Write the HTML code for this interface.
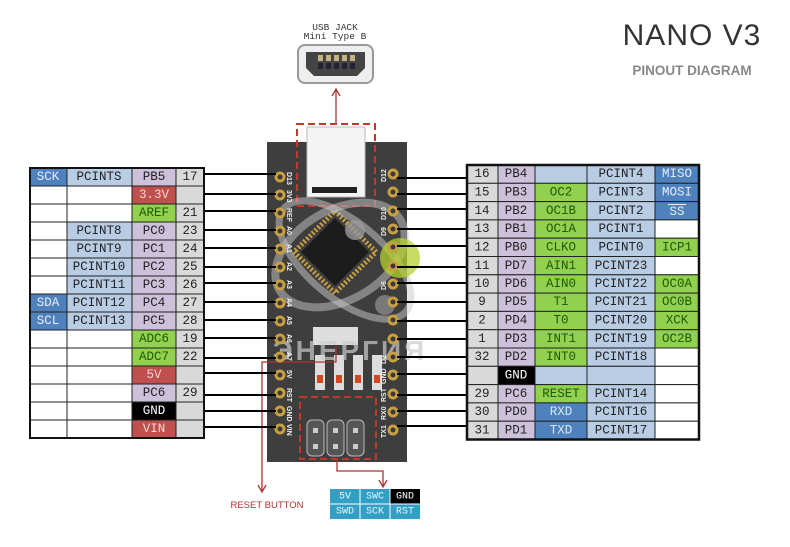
<!DOCTYPE html>
<html><head><meta charset="utf-8"><style>
body{margin:0;background:#fff;}
svg{display:block}
.t{font-family:"Liberation Mono",monospace;font-size:12.5px;text-anchor:middle;dominant-baseline:central}
.p{font-family:"Liberation Sans",sans-serif;font-size:7px;fill:#eee;font-weight:bold}
</style></head><body>
<svg width="790" height="547" viewBox="0 0 790 547" xmlns="http://www.w3.org/2000/svg">
<rect width="790" height="547" fill="#fff"/>
<!-- Title -->
<text x="692" y="45" font-family="Liberation Sans,sans-serif" font-size="30" fill="#333" text-anchor="middle" letter-spacing="1">NANO V3</text>
<text x="692" y="75" font-family="Liberation Sans,sans-serif" font-size="13.5" font-weight="bold" fill="#888" text-anchor="middle">PINOUT DIAGRAM</text>
<!-- USB jack -->
<text x="335" y="30" font-family="Liberation Mono,monospace" font-size="9.5" text-anchor="middle" fill="#333">USB JACK</text>
<text x="335" y="39" font-family="Liberation Mono,monospace" font-size="9.5" text-anchor="middle" fill="#333">Mini Type B</text>
<rect x="298" y="45" width="75" height="38" rx="7" fill="#eee" stroke="#999" stroke-width="2"/>
<path d="M306 52 h59 v16 l-8 8 h-43 l-8 -8z" fill="#444"/>
<g fill="#c8b080"><rect x="318" y="55" width="5" height="6"/><rect x="326" y="55" width="5" height="6"/><rect x="334" y="55" width="5" height="6"/><rect x="342" y="55" width="5" height="6"/><rect x="350" y="55" width="5" height="6"/></g>
<g fill="#223"><rect x="318" y="63" width="5" height="6"/><rect x="326" y="63" width="5" height="6"/><rect x="334" y="63" width="5" height="6"/><rect x="342" y="63" width="5" height="6"/><rect x="350" y="63" width="5" height="6"/></g>
<path d="M336 123 V90 M332 96 L336 89 L340 96" stroke="#a33" stroke-width="1.3" fill="none"/>

<!-- Board -->
<rect x="267" y="142" width="140" height="320" fill="#3e3e3e"/>
<rect x="307" y="127" width="58" height="70" fill="#f4f4f4" stroke="#bbb"/>
<rect x="312" y="187" width="45" height="6" fill="#222"/>
<rect x="297" y="124" width="78" height="82" fill="none" stroke="#c0392b" stroke-width="2" stroke-dasharray="7,4"/>
<g transform="translate(335,252) rotate(45)">
<rect x="-29" y="-29" width="58" height="58" fill="none" stroke="#c8a040" stroke-width="5" stroke-dasharray="2,2"/>
<rect x="-24" y="-24" width="48" height="48" fill="#1c1c1c"/>
</g>
<ellipse cx="340" cy="255" rx="70" ry="45" fill="none" stroke="#bbb" stroke-width="8" opacity="0.55" transform="rotate(-30 340 255)"/>
<ellipse cx="345" cy="260" rx="80" ry="38" fill="none" stroke="#ccc" stroke-width="7" opacity="0.5" transform="rotate(40 345 260)"/>
<circle cx="400" cy="258" r="20" fill="#b5d030" opacity="0.75"/>
<circle cx="355" cy="230" r="10" fill="#999" opacity="0.8"/>
<circle cx="385" cy="305" r="10" fill="#888" opacity="0.8"/>
<rect x="313" y="327" width="45" height="18" fill="#ddd"/>
<g fill="#ddd"><rect x="315" y="355" width="10" height="35"/><rect x="334" y="355" width="10" height="35"/><rect x="353" y="355" width="10" height="35"/><rect x="372" y="355" width="10" height="35"/></g>
<g fill="#d04a20"><rect x="317" y="375" width="6" height="8"/><rect x="336" y="375" width="6" height="8"/><rect x="355" y="375" width="6" height="8"/><rect x="374" y="375" width="6" height="8"/></g>
<text x="350" y="360" font-family="Liberation Sans,sans-serif" font-size="28" font-weight="bold" fill="#ccc" opacity="0.7" text-anchor="middle" letter-spacing="3">ЭНЕРГИЯ</text>
<rect x="300" y="397" width="76" height="62" fill="none" stroke="#c0392b" stroke-width="2" stroke-dasharray="7,4"/>
<g fill="#555" stroke="#bbb"><rect x="307" y="420" width="17" height="36" rx="5"/><rect x="327" y="420" width="17" height="36" rx="5"/><rect x="347" y="420" width="17" height="36" rx="5"/></g>
<g fill="#ccc"><rect x="313" y="428" width="5" height="5"/><rect x="333" y="428" width="5" height="5"/><rect x="353" y="428" width="5" height="5"/><rect x="313" y="444" width="5" height="5"/><rect x="333" y="444" width="5" height="5"/><rect x="353" y="444" width="5" height="5"/></g>
<!-- arrows bottom -->
<path d="M336 346 V362 H262 V492 M258 485 L262 492 L266 485" stroke="#a33" stroke-width="1.3" fill="none"/>
<path d="M337 459 V471 H383 V486 M379 480 L383 487 L387 480" stroke="#a33" stroke-width="1.3" fill="none"/>
<text x="267" y="508" font-family="Liberation Sans,sans-serif" font-size="9.5" fill="#b03030" text-anchor="middle">RESET BUTTON</text>
<!-- bottom table -->
<rect x="330" y="489" width="30" height="15" fill="#31a0c4"/><rect x="360" y="489" width="30" height="15" fill="#31a0c4"/><rect x="390" y="489" width="30" height="15" fill="#000"/>
<rect x="330" y="504" width="30" height="15" fill="#31a0c4"/><rect x="360" y="504" width="30" height="15" fill="#31a0c4"/><rect x="390" y="504" width="30" height="15" fill="#31a0c4"/>
<g stroke="#fff" stroke-width="1"><line x1="360" y1="489" x2="360" y2="519"/><line x1="390" y1="489" x2="390" y2="519"/><line x1="330" y1="504" x2="420" y2="504"/></g>
<g class="t" style="font-size:10px" fill="#e6f6ff"><text x="345" y="497">5V</text><text x="375" y="497">SWC</text><text x="405" y="497" fill="#fff">GND</text><text x="345" y="512">SWD</text><text x="375" y="512">SCK</text><text x="405" y="512">RST</text></g>

<!-- pins -->
<g fill="#3a3a3a" stroke="#c8a040" stroke-width="3">
<circle cx="280" cy="177" r="4"/><circle cx="280" cy="195" r="4"/><circle cx="280" cy="213" r="4"/><circle cx="280" cy="231" r="4"/><circle cx="280" cy="249" r="4"/><circle cx="280" cy="267" r="4"/><circle cx="280" cy="285" r="4"/><circle cx="280" cy="303" r="4"/><circle cx="280" cy="321" r="4"/><circle cx="280" cy="339" r="4"/><circle cx="280" cy="357" r="4"/><circle cx="280" cy="375" r="4"/><circle cx="280" cy="393" r="4"/><circle cx="280" cy="411" r="4"/><circle cx="280" cy="429" r="4"/>
<circle cx="393" cy="174" r="4"/><circle cx="393" cy="192" r="4"/><circle cx="393" cy="211" r="4"/><circle cx="393" cy="229" r="4"/><circle cx="393" cy="247" r="4"/><circle cx="393" cy="266" r="4"/><circle cx="393" cy="284" r="4"/><circle cx="393" cy="302" r="4"/><circle cx="393" cy="320" r="4"/><circle cx="393" cy="339" r="4"/><circle cx="393" cy="357" r="4"/><circle cx="393" cy="375" r="4"/><circle cx="393" cy="394" r="4"/><circle cx="393" cy="412" r="4"/><circle cx="393" cy="430" r="4"/>
</g>
<g class="p">
<text transform="translate(287,172) rotate(90)">D13</text><text transform="translate(287,190) rotate(90)">3V3</text><text transform="translate(287,208) rotate(90)">REF</text><text transform="translate(287,226) rotate(90)">A0</text><text transform="translate(287,244) rotate(90)">A1</text><text transform="translate(287,262) rotate(90)">A2</text><text transform="translate(287,280) rotate(90)">A3</text><text transform="translate(287,298) rotate(90)">A4</text><text transform="translate(287,316) rotate(90)">A5</text><text transform="translate(287,334) rotate(90)">A6</text><text transform="translate(287,352) rotate(90)">A7</text><text transform="translate(287,370) rotate(90)">5V</text><text transform="translate(287,388) rotate(90)">RST</text><text transform="translate(287,406) rotate(90)">GND</text><text transform="translate(287,424) rotate(90)">VIN</text>
<text transform="translate(386,182) rotate(-90)">D12</text><text transform="translate(386,220) rotate(-90)">D10</text><text transform="translate(386,236) rotate(-90)">D9</text><text transform="translate(386,290) rotate(-90)">D6</text><text transform="translate(386,364) rotate(-90)">D2</text><text transform="translate(386,384) rotate(-90)">GND</text><text transform="translate(386,402) rotate(-90)">RST</text><text transform="translate(386,420) rotate(-90)">RX0</text><text transform="translate(386,438) rotate(-90)">TX1</text>
</g>

<!-- connector lines -->
<g stroke="#000" stroke-width="2">
<line x1="204" y1="174" x2="276" y2="174"/><line x1="204" y1="194" x2="276" y2="194"/><line x1="204" y1="211" x2="276" y2="211"/><line x1="204" y1="230" x2="276" y2="230"/><line x1="204" y1="248" x2="276" y2="248"/><line x1="204" y1="267" x2="276" y2="267"/><line x1="204" y1="283" x2="276" y2="283"/><line x1="204" y1="302" x2="276" y2="302"/><line x1="204" y1="320" x2="276" y2="320"/><line x1="204" y1="338" x2="276" y2="338"/><line x1="204" y1="358" x2="276" y2="358"/><line x1="204" y1="373" x2="276" y2="373"/><line x1="204" y1="395" x2="276" y2="395"/><line x1="204" y1="411" x2="276" y2="411"/><line x1="204" y1="427" x2="276" y2="427"/>
<line x1="397" y1="178" x2="468" y2="178"/><line x1="397" y1="194" x2="468" y2="194"/><line x1="397" y1="209" x2="468" y2="209"/><line x1="397" y1="229" x2="468" y2="229"/><line x1="397" y1="246" x2="468" y2="246"/><line x1="397" y1="267" x2="468" y2="267"/><line x1="397" y1="283" x2="468" y2="283"/><line x1="397" y1="302" x2="468" y2="302"/><line x1="397" y1="321" x2="468" y2="321"/><line x1="397" y1="339" x2="468" y2="339"/><line x1="397" y1="357" x2="468" y2="357"/><line x1="397" y1="374" x2="468" y2="374"/><line x1="397" y1="395" x2="468" y2="395"/><line x1="397" y1="411" x2="468" y2="411"/><line x1="397" y1="426" x2="468" y2="426"/>
</g>

<!-- LEFT TABLE -->
<g stroke="#222" stroke-width="1">
<rect x="30" y="168" width="37" height="18" fill="#4f81bd"/><rect x="67" y="168" width="65" height="18" fill="#b8cce4"/><rect x="132" y="168" width="44" height="18" fill="#ccc0da"/><rect x="176" y="168" width="28" height="18" fill="#d9d9d9"/>
<rect x="30" y="186" width="37" height="18" fill="#fff"/><rect x="67" y="186" width="65" height="18" fill="#fff"/><rect x="132" y="186" width="44" height="18" fill="#c0504d"/><rect x="176" y="186" width="28" height="18" fill="#d9d9d9"/>
<rect x="30" y="204" width="37" height="18" fill="#fff"/><rect x="67" y="204" width="65" height="18" fill="#fff"/><rect x="132" y="204" width="44" height="18" fill="#92d050"/><rect x="176" y="204" width="28" height="18" fill="#d9d9d9"/>
<rect x="30" y="222" width="37" height="18" fill="#fff"/><rect x="67" y="222" width="65" height="18" fill="#b8cce4"/><rect x="132" y="222" width="44" height="18" fill="#ccc0da"/><rect x="176" y="222" width="28" height="18" fill="#d9d9d9"/>
<rect x="30" y="240" width="37" height="18" fill="#fff"/><rect x="67" y="240" width="65" height="18" fill="#b8cce4"/><rect x="132" y="240" width="44" height="18" fill="#ccc0da"/><rect x="176" y="240" width="28" height="18" fill="#d9d9d9"/>
<rect x="30" y="258" width="37" height="18" fill="#fff"/><rect x="67" y="258" width="65" height="18" fill="#b8cce4"/><rect x="132" y="258" width="44" height="18" fill="#ccc0da"/><rect x="176" y="258" width="28" height="18" fill="#d9d9d9"/>
<rect x="30" y="276" width="37" height="18" fill="#fff"/><rect x="67" y="276" width="65" height="18" fill="#b8cce4"/><rect x="132" y="276" width="44" height="18" fill="#ccc0da"/><rect x="176" y="276" width="28" height="18" fill="#d9d9d9"/>
<rect x="30" y="294" width="37" height="18" fill="#4f81bd"/><rect x="67" y="294" width="65" height="18" fill="#b8cce4"/><rect x="132" y="294" width="44" height="18" fill="#ccc0da"/><rect x="176" y="294" width="28" height="18" fill="#d9d9d9"/>
<rect x="30" y="312" width="37" height="18" fill="#4f81bd"/><rect x="67" y="312" width="65" height="18" fill="#b8cce4"/><rect x="132" y="312" width="44" height="18" fill="#ccc0da"/><rect x="176" y="312" width="28" height="18" fill="#d9d9d9"/>
<rect x="30" y="330" width="37" height="18" fill="#fff"/><rect x="67" y="330" width="65" height="18" fill="#fff"/><rect x="132" y="330" width="44" height="18" fill="#92d050"/><rect x="176" y="330" width="28" height="18" fill="#d9d9d9"/>
<rect x="30" y="348" width="37" height="18" fill="#fff"/><rect x="67" y="348" width="65" height="18" fill="#fff"/><rect x="132" y="348" width="44" height="18" fill="#92d050"/><rect x="176" y="348" width="28" height="18" fill="#d9d9d9"/>
<rect x="30" y="366" width="37" height="18" fill="#fff"/><rect x="67" y="366" width="65" height="18" fill="#fff"/><rect x="132" y="366" width="44" height="18" fill="#c0504d"/><rect x="176" y="366" width="28" height="18" fill="#d9d9d9"/>
<rect x="30" y="384" width="37" height="18" fill="#fff"/><rect x="67" y="384" width="65" height="18" fill="#fff"/><rect x="132" y="384" width="44" height="18" fill="#ccc0da"/><rect x="176" y="384" width="28" height="18" fill="#d9d9d9"/>
<rect x="30" y="402" width="37" height="18" fill="#fff"/><rect x="67" y="402" width="65" height="18" fill="#fff"/><rect x="132" y="402" width="44" height="18" fill="#000"/><rect x="176" y="402" width="28" height="18" fill="#d9d9d9"/>
<rect x="30" y="420" width="37" height="18" fill="#fff"/><rect x="67" y="420" width="65" height="18" fill="#fff"/><rect x="132" y="420" width="44" height="18" fill="#c0504d"/><rect x="176" y="420" width="28" height="18" fill="#d9d9d9"/>
</g>
<rect x="30" y="168" width="174" height="270" fill="none" stroke="#111" stroke-width="2"/>
<g class="t" fill="#222">
<text x="48" y="177" fill="#e6eef8">SCK</text><text x="99" y="177">PCINTS</text><text x="154" y="177">PB5</text><text x="190" y="177">17</text>
<text x="154" y="195" fill="#f6d6d6">3.3V</text>
<text x="154" y="213" fill="#1e5a00">AREF</text><text x="190" y="213">21</text>
<text x="99" y="231">PCINT8</text><text x="154" y="231">PC0</text><text x="190" y="231">23</text>
<text x="99" y="249">PCINT9</text><text x="154" y="249">PC1</text><text x="190" y="249">24</text>
<text x="99" y="267">PCINT10</text><text x="154" y="267">PC2</text><text x="190" y="267">25</text>
<text x="99" y="285">PCINT11</text><text x="154" y="285">PC3</text><text x="190" y="285">26</text>
<text x="48" y="303" fill="#e6eef8">SDA</text><text x="99" y="303">PCINT12</text><text x="154" y="303">PC4</text><text x="190" y="303">27</text>
<text x="48" y="321" fill="#e6eef8">SCL</text><text x="99" y="321">PCINT13</text><text x="154" y="321">PC5</text><text x="190" y="321">28</text>
<text x="154" y="339" fill="#1e5a00">ADC6</text><text x="190" y="339">19</text>
<text x="154" y="357" fill="#1e5a00">ADC7</text><text x="190" y="357">22</text>
<text x="154" y="375" fill="#f6d6d6">5V</text>
<text x="154" y="393">PC6</text><text x="190" y="393">29</text>
<text x="154" y="411" fill="#fff">GND</text>
<text x="154" y="429" fill="#f6d6d6">VIN</text>
</g>

<!-- RIGHT TABLE -->
<g stroke="#222" stroke-width="1">
<rect x="467" y="165" width="31" height="18.3" fill="#d9d9d9"/><rect x="498" y="165" width="37" height="18.3" fill="#ccc0da"/><rect x="535" y="165" width="52" height="18.3" fill="#b8cce4"/><rect x="587" y="165" width="68" height="18.3" fill="#b8cce4"/><rect x="655" y="165" width="44" height="18.3" fill="#4f81bd"/>
<rect x="467" y="183.3" width="31" height="18.3" fill="#d9d9d9"/><rect x="498" y="183.3" width="37" height="18.3" fill="#ccc0da"/><rect x="535" y="183.3" width="52" height="18.3" fill="#92d050"/><rect x="587" y="183.3" width="68" height="18.3" fill="#b8cce4"/><rect x="655" y="183.3" width="44" height="18.3" fill="#4f81bd"/>
<rect x="467" y="201.6" width="31" height="18.3" fill="#d9d9d9"/><rect x="498" y="201.6" width="37" height="18.3" fill="#ccc0da"/><rect x="535" y="201.6" width="52" height="18.3" fill="#92d050"/><rect x="587" y="201.6" width="68" height="18.3" fill="#b8cce4"/><rect x="655" y="201.6" width="44" height="18.3" fill="#4f81bd"/>
<rect x="467" y="219.9" width="31" height="18.3" fill="#d9d9d9"/><rect x="498" y="219.9" width="37" height="18.3" fill="#ccc0da"/><rect x="535" y="219.9" width="52" height="18.3" fill="#92d050"/><rect x="587" y="219.9" width="68" height="18.3" fill="#b8cce4"/><rect x="655" y="219.9" width="44" height="18.3" fill="#fff"/>
<rect x="467" y="238.2" width="31" height="18.3" fill="#d9d9d9"/><rect x="498" y="238.2" width="37" height="18.3" fill="#ccc0da"/><rect x="535" y="238.2" width="52" height="18.3" fill="#92d050"/><rect x="587" y="238.2" width="68" height="18.3" fill="#b8cce4"/><rect x="655" y="238.2" width="44" height="18.3" fill="#92d050"/>
<rect x="467" y="256.5" width="31" height="18.3" fill="#d9d9d9"/><rect x="498" y="256.5" width="37" height="18.3" fill="#ccc0da"/><rect x="535" y="256.5" width="52" height="18.3" fill="#92d050"/><rect x="587" y="256.5" width="68" height="18.3" fill="#b8cce4"/><rect x="655" y="256.5" width="44" height="18.3" fill="#fff"/>
<rect x="467" y="274.8" width="31" height="18.3" fill="#d9d9d9"/><rect x="498" y="274.8" width="37" height="18.3" fill="#ccc0da"/><rect x="535" y="274.8" width="52" height="18.3" fill="#92d050"/><rect x="587" y="274.8" width="68" height="18.3" fill="#b8cce4"/><rect x="655" y="274.8" width="44" height="18.3" fill="#92d050"/>
<rect x="467" y="293.1" width="31" height="18.3" fill="#d9d9d9"/><rect x="498" y="293.1" width="37" height="18.3" fill="#ccc0da"/><rect x="535" y="293.1" width="52" height="18.3" fill="#92d050"/><rect x="587" y="293.1" width="68" height="18.3" fill="#b8cce4"/><rect x="655" y="293.1" width="44" height="18.3" fill="#92d050"/>
<rect x="467" y="311.4" width="31" height="18.3" fill="#d9d9d9"/><rect x="498" y="311.4" width="37" height="18.3" fill="#ccc0da"/><rect x="535" y="311.4" width="52" height="18.3" fill="#92d050"/><rect x="587" y="311.4" width="68" height="18.3" fill="#b8cce4"/><rect x="655" y="311.4" width="44" height="18.3" fill="#92d050"/>
<rect x="467" y="329.7" width="31" height="18.3" fill="#d9d9d9"/><rect x="498" y="329.7" width="37" height="18.3" fill="#ccc0da"/><rect x="535" y="329.7" width="52" height="18.3" fill="#92d050"/><rect x="587" y="329.7" width="68" height="18.3" fill="#b8cce4"/><rect x="655" y="329.7" width="44" height="18.3" fill="#92d050"/>
<rect x="467" y="348" width="31" height="18.3" fill="#d9d9d9"/><rect x="498" y="348" width="37" height="18.3" fill="#ccc0da"/><rect x="535" y="348" width="52" height="18.3" fill="#92d050"/><rect x="587" y="348" width="68" height="18.3" fill="#b8cce4"/><rect x="655" y="348" width="44" height="18.3" fill="#fff"/>
<rect x="467" y="366.3" width="31" height="18.3" fill="#d9d9d9"/><rect x="498" y="366.3" width="37" height="18.3" fill="#000"/><rect x="535" y="366.3" width="52" height="18.3" fill="#b8cce4"/><rect x="587" y="366.3" width="68" height="18.3" fill="#b8cce4"/><rect x="655" y="366.3" width="44" height="18.3" fill="#fff"/>
<rect x="467" y="384.6" width="31" height="18.3" fill="#d9d9d9"/><rect x="498" y="384.6" width="37" height="18.3" fill="#ccc0da"/><rect x="535" y="384.6" width="52" height="18.3" fill="#92d050"/><rect x="587" y="384.6" width="68" height="18.3" fill="#b8cce4"/><rect x="655" y="384.6" width="44" height="18.3" fill="#fff"/>
<rect x="467" y="402.9" width="31" height="18.3" fill="#d9d9d9"/><rect x="498" y="402.9" width="37" height="18.3" fill="#ccc0da"/><rect x="535" y="402.9" width="52" height="18.3" fill="#4f81bd"/><rect x="587" y="402.9" width="68" height="18.3" fill="#b8cce4"/><rect x="655" y="402.9" width="44" height="18.3" fill="#fff"/>
<rect x="467" y="421.2" width="31" height="18.3" fill="#d9d9d9"/><rect x="498" y="421.2" width="37" height="18.3" fill="#ccc0da"/><rect x="535" y="421.2" width="52" height="18.3" fill="#4f81bd"/><rect x="587" y="421.2" width="68" height="18.3" fill="#b8cce4"/><rect x="655" y="421.2" width="44" height="18.3" fill="#fff"/>
</g>
<rect x="467" y="165" width="232" height="274.5" fill="none" stroke="#111" stroke-width="2.5"/>
<g class="t" fill="#222">
<text x="482" y="174">16</text><text x="516" y="174">PB4</text><text x="621" y="174">PCINT4</text><text x="677" y="174" fill="#e6eef8">MISO</text>
<text x="482" y="192.5">15</text><text x="516" y="192.5">PB3</text><text x="561" y="192.5" fill="#1e5a00">OC2</text><text x="621" y="192.5">PCINT3</text><text x="677" y="192.5" fill="#e6eef8">MOSI</text>
<text x="482" y="211">14</text><text x="516" y="211">PB2</text><text x="561" y="211" fill="#1e5a00">OC1B</text><text x="621" y="211">PCINT2</text><text x="677" y="212" fill="#e6eef8">SS</text>
<text x="482" y="229">13</text><text x="516" y="229">PB1</text><text x="561" y="229" fill="#1e5a00">OC1A</text><text x="621" y="229">PCINT1</text>
<text x="482" y="247.5">12</text><text x="516" y="247.5">PB0</text><text x="561" y="247.5" fill="#1e5a00">CLKO</text><text x="621" y="247.5">PCINT0</text><text x="677" y="247.5" fill="#1e5a00">ICP1</text>
<text x="482" y="266">11</text><text x="516" y="266">PD7</text><text x="561" y="266" fill="#1e5a00">AIN1</text><text x="621" y="266">PCINT23</text>
<text x="482" y="284">10</text><text x="516" y="284">PD6</text><text x="561" y="284" fill="#1e5a00">AIN0</text><text x="621" y="284">PCINT22</text><text x="677" y="284" fill="#1e5a00">OC0A</text>
<text x="482" y="302">9</text><text x="516" y="302">PD5</text><text x="561" y="302" fill="#1e5a00">T1</text><text x="621" y="302">PCINT21</text><text x="677" y="302" fill="#1e5a00">OC0B</text>
<text x="482" y="320.5">2</text><text x="516" y="320.5">PD4</text><text x="561" y="320.5" fill="#1e5a00">T0</text><text x="621" y="320.5">PCINT20</text><text x="677" y="320.5" fill="#1e5a00">XCK</text>
<text x="482" y="339">1</text><text x="516" y="339">PD3</text><text x="561" y="339" fill="#1e5a00">INT1</text><text x="621" y="339">PCINT19</text><text x="677" y="339" fill="#1e5a00">OC2B</text>
<text x="482" y="357">32</text><text x="516" y="357">PD2</text><text x="561" y="357" fill="#1e5a00">INT0</text><text x="621" y="357">PCINT18</text>
<text x="516" y="375.5" fill="#fff">GND</text>
<text x="482" y="394">29</text><text x="516" y="394">PC6</text><text x="561" y="394" fill="#1e5a00">RESET</text><text x="621" y="394">PCINT14</text>
<text x="482" y="412">30</text><text x="516" y="412">PD0</text><text x="561" y="412" fill="#dce6f1">RXD</text><text x="621" y="412">PCINT16</text>
<text x="482" y="430.5">31</text><text x="516" y="430.5">PD1</text><text x="561" y="430.5" fill="#dce6f1">TXD</text><text x="621" y="430.5">PCINT17</text>
</g>
<line x1="668" y1="204.5" x2="686" y2="204.5" stroke="#e6eef8" stroke-width="1"/>
</svg>
</body></html>
